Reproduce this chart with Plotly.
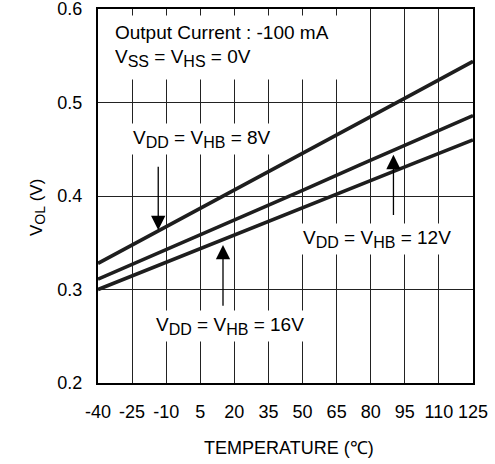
import plotly.graph_objects as go

# Data
temps = [-40, 0, 25, 50, 75, 100, 125]
vol_8v = [0.328, 0.380, 0.413, 0.446, 0.478, 0.511, 0.544]
vol_12v = [0.311, 0.353, 0.380, 0.406, 0.433, 0.459, 0.486]
vol_16v = [0.300, 0.339, 0.363, 0.388, 0.412, 0.436, 0.460]

x_ticks = [-40, -25, -10, 5, 20, 35, 50, 65, 80, 95, 110, 125]
x_tick_text = ["-40", "-25", "-10", "5", "20", "35", "50", "65", "80", "95", "110", "125"]
y_ticks = [0.2, 0.3, 0.4, 0.5, 0.6]
y_tick_text = ["0.2", "0.3", "0.4", "0.5", "0.6"]

# arrows: (x, tip_y, tail_y)
arrow_8v = (-13.5, 0.3636, 0.433)
arrow_12v = (90, 0.444, 0.378)
arrow_16v = (15, 0.3476, 0.281)

FONT = "Arial, Liberation Sans, sans-serif"
LINE_COLOR = "#1e1e1e"


def sub(s, size=16):
    return f'<sub><span style="font-size:{size}px">{s}</span></sub>'


fig = go.Figure()
for ys in (vol_8v, vol_12v, vol_16v):
    fig.add_trace(go.Scatter(x=temps, y=ys, mode="lines",
                             line=dict(color=LINE_COLOR, width=3.6),
                             showlegend=False, hoverinfo="skip"))

annotations = []
for (ax_x, tip, tail) in (arrow_8v, arrow_12v, arrow_16v):
    annotations.append(dict(x=ax_x, y=tip, ax=ax_x, ay=tail, xref="x", yref="y",
                            axref="x", ayref="y", text="", showarrow=True,
                            arrowhead=2, arrowsize=2.2, arrowwidth=1.3,
                            arrowcolor="black", standoff=0, startstandoff=0))


def lab(text, x, y, pad=3, **kw):
    d = dict(text=text, x=x, y=y, xref="paper", yref="paper", xanchor="left",
             yanchor="middle", showarrow=False, bgcolor="white", borderpad=pad,
             align="left", font=dict(family=FONT, size=19, color="black"))
    d.update(kw)
    return d


# second line drawn first so the first line's box sits on top
annotations.append(lab("V" + sub("SS") + " = V" + sub("HS") + " = 0V",
                       0.018, 0.868, pad=9, width=214))
annotations.append(lab("Output Current : -100 mA", 0.026, 0.936, pad=6, width=216))
annotations.append(lab("V" + sub("DD") + " = V" + sub("HB") + " = 8V", 0.083, 0.652))
annotations.append(lab("V" + sub("DD") + " = V" + sub("HB") + " = 12V", 0.536, 0.385))
annotations.append(lab("V" + sub("DD") + " = V" + sub("HB") + " = 16V", 0.144, 0.152))

# axis titles
annotations.append(dict(text="V" + sub("OL", 14) + " (V)", x=-0.195, y=0.47, xref="paper",
                        yref="paper", textangle=-90, showarrow=False,
                        font=dict(family=FONT, size=17, color="black")))
annotations.append(dict(text="TEMPERATURE (℃)", x=0.51, y=-0.175, xref="paper",
                        yref="paper", showarrow=False, yanchor="middle",
                        font=dict(family=FONT, size=18, color="black")))

axis_common = dict(showgrid=True, gridcolor="#222", gridwidth=1.2, showline=True,
                   mirror=True, linecolor="black", linewidth=2, zeroline=False,
                   automargin=False, ticklabeloverflow="allow",
                   ticks="", tickfont=dict(family=FONT, size=18, color="black"))

fig.update_layout(
    width=495, height=464,
    margin=dict(l=98, r=22, t=9, b=81),
    paper_bgcolor="white", plot_bgcolor="white",
    xaxis=dict(range=[-40, 125], tickvals=x_ticks, ticktext=x_tick_text,
               ticklabelstandoff=11, **axis_common),
    yaxis=dict(range=[0.2, 0.6], tickvals=y_ticks, ticktext=y_tick_text,
               ticklabelstandoff=10, **axis_common),
    annotations=annotations,
    showlegend=False,
)

fig.write_html("out.html")
